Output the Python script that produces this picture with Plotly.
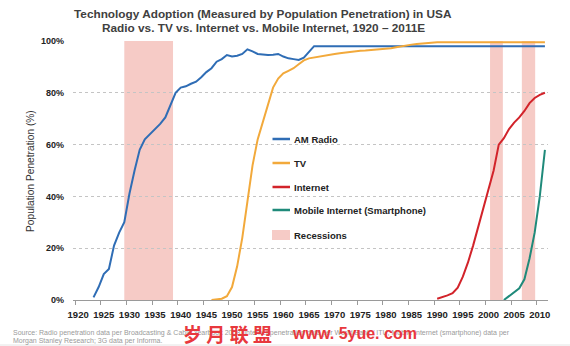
import plotly.graph_objects as go

# ---------------- data ----------------
radio_years = list(range(1923, 2012))
radio_vals = [1, 5, 10, 12, 21, 26, 30, 41, 50, 58, 62, 64, 66, 68, 70.5, 75, 80,
              82, 82.5, 83.5, 84.3, 86, 88, 89.5, 92, 93, 94.6, 94, 94.3, 95, 96.8,
              96, 95, 94.8, 94.6, 94.7, 95, 94, 93.3, 93, 92.7, 93.6, 96] + [98] * 46

tv_years = list(range(1946, 2012))
tv_vals = [0, 0.3, 0.5, 1.5, 5, 13, 24, 38, 52, 62, 69, 76, 82, 85.5, 87.5, 88.5,
           89.5, 91, 92.5, 93.3, 93.7, 94, 94.5, 94.8, 95, 95.3, 95.6, 95.8, 96,
           96.2, 96.3, 96.5, 96.6, 96.7, 96.9, 97.2, 97.6, 98, 98.3, 98.6, 98.8,
           99.0, 99.2, 99.3] + [99.5] * 22

internet_years = list(range(1990, 2012))
internet_vals = [0.5, 1, 1.8, 2.6, 4.8, 9, 14.5, 21, 28, 36, 43, 50, 60, 62.5, 66,
                 68.5, 70.5, 73, 76, 78, 79.2, 80]

mobile_years = list(range(2003, 2012))
mobile_vals = [0, 1.5, 3, 4.5, 8, 16, 26, 40, 58]

recession_starts = [1929.0, 2000.3, 2006.5]
recession_ends = [1938.5, 2002.8, 2009.1]

series_names = ["AM Radio", "TV", "Internet", "Mobile Internet (Smartphone)"]
series_colors = ["#2F6DB5", "#F2A93B", "#D2232A", "#1F8A7A"]
recession_color = "#F6CBC6"

x_ticks = list(range(1920, 2011, 5))
y_ticks = [0, 20, 40, 60, 80, 100]
y_ticktext = [f"{v}%" for v in y_ticks]

title_line1 = "Technology Adoption (Measured by Population Penetration) in USA"
title_line2 = "Radio vs. TV vs. Internet vs. Mobile Internet, 1920 \u2013 2011E"
source_line1 = ("Source: Radio penetration data per Broadcasting & Cable Yearbook 2008, "
                "Internet penetration data per World Bank / ITU, Mobile Internet (smartphone) data per")
source_line2 = "Morgan Stanley Research; 3G data per Informa."

# ---------------- figure ----------------
W, H = 570, 346
L, R, T, B = 73, 22, 41, 46
pw, ph = W - L - R, H - T - B

def px(xp):
    return (xp - L) / pw

def py(yp):
    return (H - B - yp) / ph

fig = go.Figure()
all_x = [radio_years, tv_years, internet_years, mobile_years]
all_y = [radio_vals, tv_vals, internet_vals, mobile_vals]
for name, col, xs, ys in zip(series_names, series_colors, all_x, all_y):
    fig.add_trace(go.Scatter(x=xs, y=ys, mode="lines", name=name,
                             line=dict(color=col, width=2), showlegend=False))

for x0, x1 in zip(recession_starts, recession_ends):
    fig.add_shape(type="rect", xref="x", yref="y", x0=x0, x1=x1, y0=0, y1=100,
                  fillcolor=recession_color, line=dict(width=0), layer="below")

# manual legend
leg_y = [139, 163, 187, 210]
for name, col, yy in zip(series_names, series_colors, leg_y):
    fig.add_shape(type="line", xref="paper", yref="paper", x0=px(272.5), x1=px(290),
                  y0=py(yy), y1=py(yy), line=dict(color=col, width=2.5))
    fig.add_annotation(xref="paper", yref="paper", x=px(292), y=py(yy), text=name,
                       showarrow=False, xanchor="left", yanchor="middle",
                       font=dict(family="Arial, Liberation Sans", size=9.5, color="#222222",
                                 weight="bold"))
fig.add_shape(type="rect", xref="paper", yref="paper", x0=px(272), x1=px(290),
              y0=py(240), y1=py(230), fillcolor=recession_color, line=dict(width=0))
fig.add_annotation(xref="paper", yref="paper", x=px(292), y=py(235), text="Recessions",
                   showarrow=False, xanchor="left", yanchor="middle",
                   font=dict(family="Arial, Liberation Sans", size=9.5, color="#222222",
                             weight="bold"))

# titles
for txt, yy in [(title_line1, 14), (title_line2, 28)]:
    fig.add_annotation(xref="paper", yref="paper", x=px(263), y=py(yy), text=txt,
                       showarrow=False, xanchor="center", yanchor="middle",
                       font=dict(family="Arial, Liberation Sans", size=11.8, color="#404040",
                                 weight="bold"))

fig.add_annotation(xref="paper", yref="paper", x=px(30), y=py(171),
                   text="Population Penetration (%)", textangle=-90, showarrow=False,
                   xanchor="center", yanchor="middle",
                   font=dict(family="Arial, Liberation Sans", size=10.2, color="#333333"))

for txt, yy in [(source_line1, 333), (source_line2, 341)]:
    fig.add_annotation(xref="paper", yref="paper", x=px(11), y=py(yy), text=txt,
                       showarrow=False, xanchor="left", yanchor="middle",
                       font=dict(family="Arial, Liberation Sans", size=7, color="#9A9A9A"))

# watermark (overlaid on the source note, as in the reference)
fig.add_annotation(xref="paper", yref="paper", x=px(181), y=py(333), text="岁 月 联 盟",
                   showarrow=False, xanchor="left", yanchor="middle",
                   font=dict(family="Noto Sans CJK SC", size=19, color="#E8383D",
                             weight="bold"))
fig.add_annotation(xref="paper", yref="paper", x=px(290), y=py(333), text="www. 5yue. com",
                   showarrow=False, xanchor="left", yanchor="middle",
                   font=dict(family="Arial, Liberation Sans", size=16, color="#E8383D",
                             weight="bold"))
fig.add_shape(type="line", xref="paper", yref="paper", x0=px(0), x1=px(W),
              y0=py(345), y1=py(345), line=dict(color="#E4E4E4", width=1))

fig.update_layout(
    width=W, height=H,
    margin=dict(l=L, r=R, t=T, b=B),
    paper_bgcolor="white", plot_bgcolor="white",
    showlegend=False,
    xaxis=dict(
        range=[1919.0, 2011.6], tickvals=x_ticks, ticktext=[str(v) for v in x_ticks],
        ticks="", showgrid=False, zeroline=False,
        showline=True, linecolor="#9A9A9A", linewidth=1,
        tickfont=dict(family="Arial, Liberation Sans", size=9.5, color="#222222",
                      weight="bold"),
        ticklabelstandoff=6,
        minor=dict(tickvals=[v - 0.6 for v in x_ticks], ticks="outside", ticklen=4,
                   tickcolor="#9A9A9A", showgrid=False),
    ),
    yaxis=dict(
        range=[0, 100], tickvals=y_ticks, ticktext=y_ticktext,
        showgrid=True, gridcolor="#C4C4C4", griddash="3px,3px", gridwidth=1,
        zeroline=False, showline=False, ticks="",
        tickfont=dict(family="Arial, Liberation Sans", size=9, color="#222222",
                      weight="bold"),
        ticklabelstandoff=8,
    ),
)

fig.write_html("out.html")
